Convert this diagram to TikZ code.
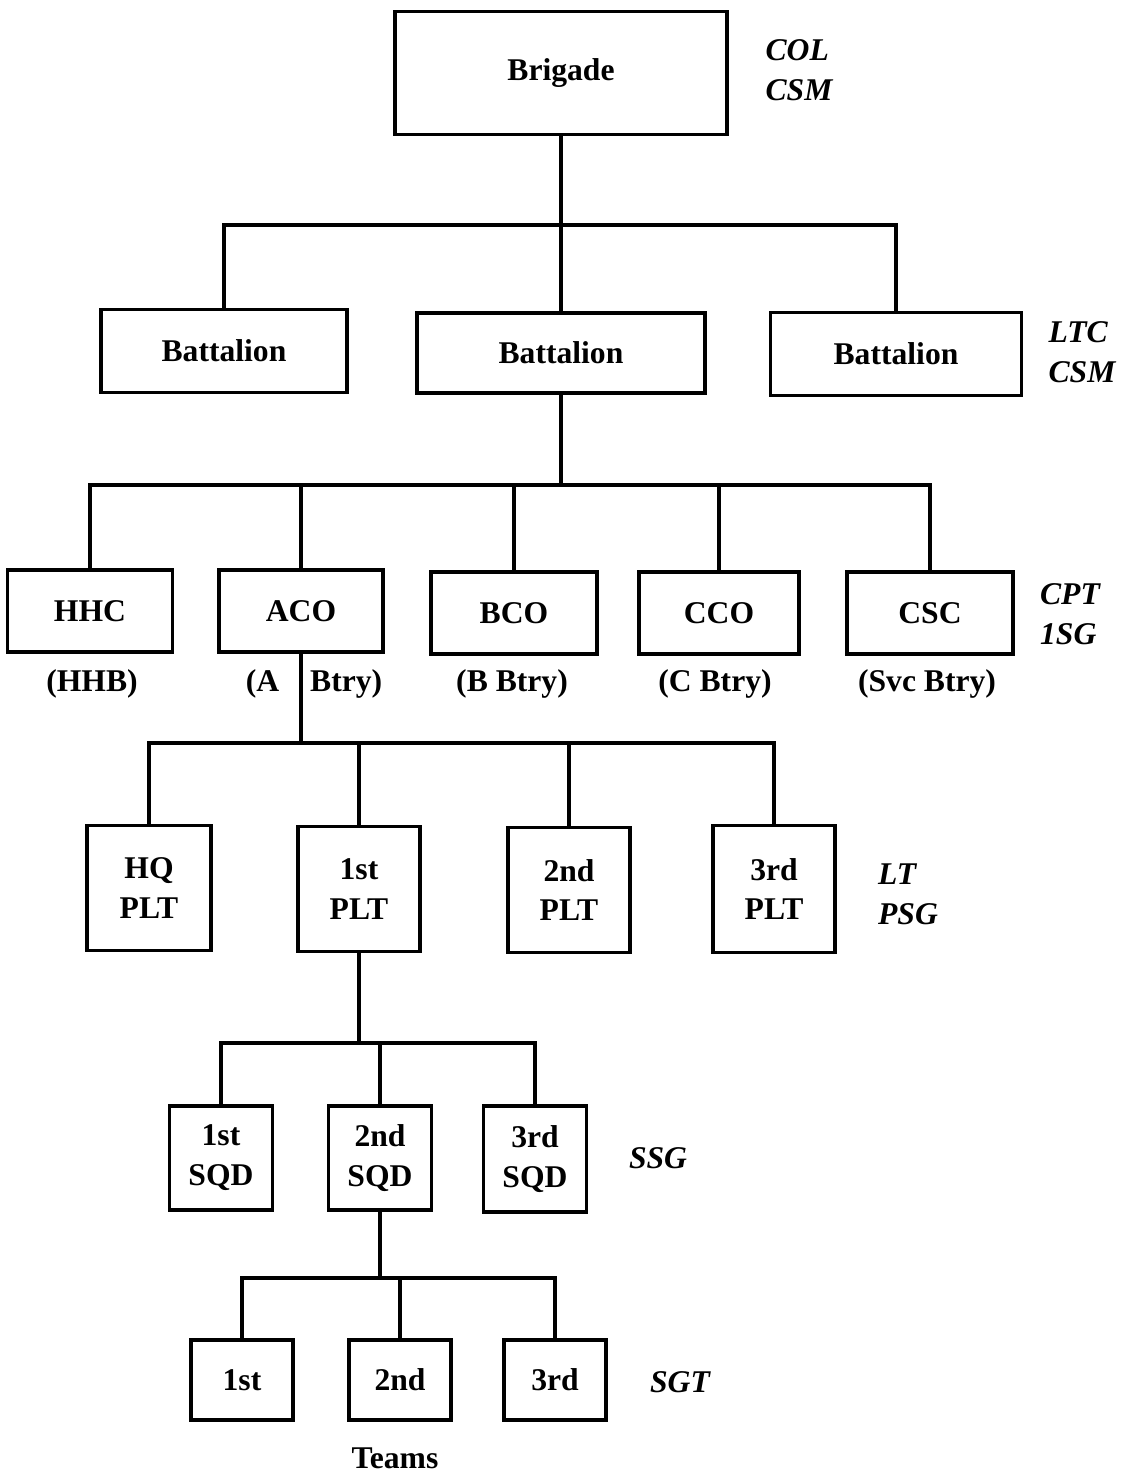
\documentclass[tikz,border=0pt]{standalone}
\usepackage{fontspec}
\setmainfont{Liberation Serif}
\usetikzlibrary{positioning}
\tikzset{unit/.style={draw,line width=2.2pt,align=center,inner sep=0pt,font=\bfseries\fontsize{18}{22.7}\selectfont},rank/.style={align=left,inner sep=0pt,font=\bfseries\itshape\fontsize{18}{22.7}\selectfont},tag/.style={inner sep=0pt,font=\bfseries\fontsize{18}{22.7}\selectfont},link/.style={line width=2.2pt}}
\begin{document}
\begin{tikzpicture}[x=0.02cm,y=-0.02cm]
\useasboundingbox (0,0) rectangle (1120,1476);
\node[unit,minimum width=6.64cm,minimum height=2.46cm] (brig) at (561,73) {Brigade};
\node[rank] (brigrank) at (799,70) {COL\\CSM};
\node[unit,minimum width=4.92cm,minimum height=1.66cm] (bn1) at (224,351) {Battalion};
\node[unit,minimum width=5.76cm,minimum height=1.6cm] (bn2) at (561,353) {Battalion};
\node[unit,minimum width=5.02cm,minimum height=1.66cm] (bn3) at (896,354) {Battalion};
\node[rank] (bnrank) at (1082,352) {LTC\\CSM};
\node[unit,minimum width=3.3cm,minimum height=1.64cm] (hhc) at (90,611) {HHC};
\node[unit,minimum width=3.28cm,minimum height=1.64cm] (aco) at (301,611) {ACO};
\node[unit,minimum width=3.32cm,minimum height=1.64cm] (bco) at (514,613) {BCO};
\node[unit,minimum width=3.2cm,minimum height=1.64cm] (cco) at (719,613) {CCO};
\node[unit,minimum width=3.32cm,minimum height=1.64cm] (csc) at (930,613) {CSC};
\node[rank] (corank) at (1070,614) {CPT\\1SG};
\node[tag] (hhb) at (92,684) {(HHB)};
\node[tag] (abtry) at (314,684) {(A\hspace{0.62cm}Btry)};
\node[tag] (bbtry) at (512,684) {(B Btry)};
\node[tag] (cbtry) at (715,684) {(C Btry)};
\node[tag] (svcbtry) at (927,684) {(Svc Btry)};
\node[unit,minimum width=2.48cm,minimum height=2.5cm] (hq) at (149,888) {HQ\\PLT};
\node[unit,minimum width=2.44cm,minimum height=2.5cm] (plt1) at (359,889) {1st\\PLT};
\node[unit,minimum width=2.44cm,minimum height=2.5cm] (plt2) at (569,890) {2nd\\PLT};
\node[unit,minimum width=2.44cm,minimum height=2.54cm] (plt3) at (774,889) {3rd\\PLT};
\node[rank] (pltrank) at (908,894) {LT\\PSG};
\node[unit,minimum width=2.06cm,minimum height=2.08cm] (sqd1) at (221,1158) {1st\\SQD};
\node[unit,minimum width=2.06cm,minimum height=2.08cm] (sqd2) at (380,1158) {2nd\\SQD};
\node[unit,minimum width=2.06cm,minimum height=2.12cm] (sqd3) at (535,1159) {3rd\\SQD};
\node[rank] (sqdrank) at (658,1158) {SSG};
\node[unit,minimum width=2.04cm,minimum height=1.6cm] (team1) at (242,1380) {1st};
\node[unit,minimum width=2.04cm,minimum height=1.6cm] (team2) at (400,1380) {2nd};
\node[unit,minimum width=2.04cm,minimum height=1.6cm] (team3) at (555,1380) {3rd};
\node[rank] (teamrank) at (680,1382) {SGT};
\node[tag] (teams) at (395,1458) {Teams};
\coordinate (j1) at (561,225);
\coordinate (j2) at (561,485);
\coordinate (j3) at (301,743);
\coordinate (j4) at (359,1043);
\coordinate (j5) at (380,1278);
\draw[link] (brig) -- (bn2);
\draw[link] (bn1.north) |- (j1) -| (bn3.north);
\draw[link] (bn2) -- (j2);
\draw[link] (hhc.north) |- (j2) -| (csc.north);
\foreach \n in {aco,bco,cco} \draw[link] (\n.north) -- (\n.north |- j2);
\draw[link] (aco) -- (j3);
\draw[link] (hq.north) |- (j3) -| (plt3.north);
\foreach \n in {plt1,plt2} \draw[link] (\n.north) -- (\n.north |- j3);
\draw[link] (plt1) -- (j4);
\draw[link] (sqd1.north) |- (j4) -| (sqd3.north);
\draw[link] (sqd2.north) -- (sqd2.north |- j4);
\draw[link] (sqd2) -- (j5);
\draw[link] (team1.north) |- (j5) -| (team3.north);
\draw[link] (team2.north) -- (team2.north |- j5);
\end{tikzpicture}
\end{document}
